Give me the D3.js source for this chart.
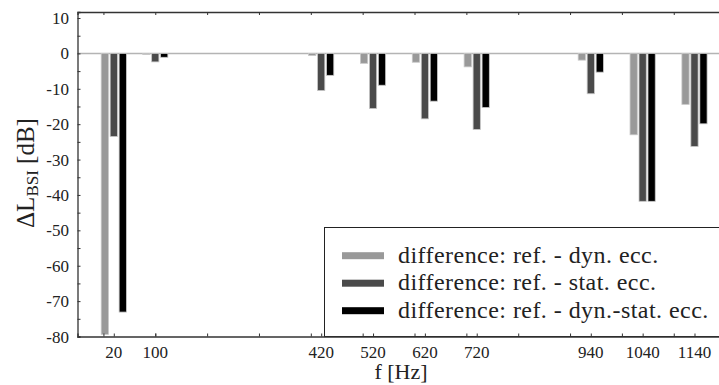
<!DOCTYPE html>
<html>
<head>
<meta charset="utf-8">
<script src="https://cdn.jsdelivr.net/npm/d3@7"></script>
<style>
  body { margin: 0; background: #fff; }
  text { font-family: "Liberation Serif", "Times New Roman", serif; }
</style>
</head>
<body>
<script>
// frequencies [Hz] and level differences [dB]
var freqs = [20, 100, 420, 520, 620, 720, 940, 1040, 1140];
var diffDyn = [-79.4, -0.3, -0.6, -2.8, -2.5, -3.8, -1.9, -23.0, -14.4];
var diffStat = [-23.5, -2.4, -10.5, -15.6, -18.5, -21.5, -11.4, -41.8, -26.3];
var diffDynStat = [-73.1, -1.1, -6.2, -9.0, -13.5, -15.3, -5.3, -41.8, -19.9];
var seriesNames = ["difference: ref. - dyn. ecc.",
                   "difference: ref. - stat. ecc.",
                   "difference: ref. - dyn.-stat. ecc."];
var seriesColors = ["#999999", "#4a4a4a", "#000000"];
var yTicks = [10, 0, -10, -20, -30, -40, -50, -60, -70, -80];

var W = 719, H = 385;
var svg = d3.select("body").append("svg")
  .attr("width", W).attr("height", H);

var x = d3.scaleLinear().domain([-50, 1200]).range([77.5, 725.6]);
var y = d3.scaleLinear().domain([-80, 11.7]).range([336.5, 12]);

var series = [diffDyn, diffStat, diffDynStat];
var offsets = [-17.3, 0, 17.3];   // Hz offset of each bar inside a group
var barW = 14;                    // Hz

// zero line
svg.append("line")
  .attr("x1", x(-50)).attr("x2", W)
  .attr("y1", y(0)).attr("y2", y(0))
  .attr("stroke", "#b4b4b4").attr("stroke-width", 1.5);

// bars
series.forEach(function(vals, s) {
  svg.append("g").selectAll("rect")
    .data(vals)
    .enter().append("rect")
    .attr("x", function(d, i) { return x(freqs[i] + offsets[s] - barW / 2); })
    .attr("width", x(barW) - x(0))
    .attr("y", y(0))
    .attr("height", function(d) { return y(d) - y(0); })
    .attr("fill", seriesColors[s])
    .attr("stroke", "#c8c8c8")
    .attr("stroke-width", 0.8);
});

// legend box
var lg = svg.append("g");
lg.append("rect")
  .attr("x", 324.5).attr("y", 227.5)
  .attr("width", 420).attr("height", y(-80) - 227.5)
  .attr("fill", "#fff").attr("stroke", "#222").attr("stroke-width", 1);
seriesNames.forEach(function(n, i) {
  var yy = 255.7 + i * 27.5;
  lg.append("rect")
    .attr("x", 342).attr("y", yy - 3.5)
    .attr("width", 42).attr("height", 7)
    .attr("fill", seriesColors[i]);
  lg.append("text")
    .attr("x", 398).attr("y", yy + 7)
    .attr("font-size", 24).attr("letter-spacing", 0.45).attr("fill", "#222")
    .text(n);
});

// axes frame
var hundreds = d3.range(0, 1200, 100);

var leftAxis = d3.axisRight(y)
  .tickValues(d3.range(-80, 11, 5))
  .tickSize(3).tickFormat("");
svg.append("g").attr("transform", "translate(" + x(-50) + ",0)").call(leftAxis);

var topAxis = d3.axisBottom(x).tickValues(hundreds).tickSize(3).tickFormat("");
svg.append("g").attr("transform", "translate(0," + y(11.7) + ")").call(topAxis);

var bottomAxis = d3.axisTop(x).tickValues(hundreds.concat(freqs)).tickSize(3).tickFormat("");
svg.append("g").attr("transform", "translate(0," + y(-80) + ")").call(bottomAxis);

svg.selectAll(".domain").attr("stroke", "#333").attr("stroke-width", 1.3);
svg.selectAll(".tick line").attr("stroke", "#333");

// tick labels
svg.append("g").selectAll("text")
  .data(yTicks)
  .enter().append("text")
  .attr("x", 69).attr("y", function(d) { return y(d) + 6; })
  .attr("text-anchor", "end")
  .attr("font-size", 17).attr("fill", "#222")
  .text(function(d) { return d; });

svg.append("g").selectAll("text")
  .data(freqs)
  .enter().append("text")
  .attr("x", function(d) { return x(d); }).attr("y", 358)
  .attr("text-anchor", "middle")
  .attr("font-size", 17).attr("fill", "#222")
  .text(function(d) { return d; });

// axis titles
svg.append("text")
  .attr("x", 401).attr("y", 379)
  .attr("text-anchor", "middle")
  .attr("font-size", 22).attr("fill", "#222")
  .text("f [Hz]");

var yl = svg.append("text")
  .attr("transform", "translate(34,173) rotate(-90)")
  .attr("text-anchor", "middle")
  .attr("font-size", 25).attr("fill", "#222");
yl.append("tspan").text("ΔL");
yl.append("tspan").attr("font-size", 17).attr("dy", 4).text("BSI");
yl.append("tspan").attr("dy", -4).text(" [dB]");
</script>
</body>
</html>
